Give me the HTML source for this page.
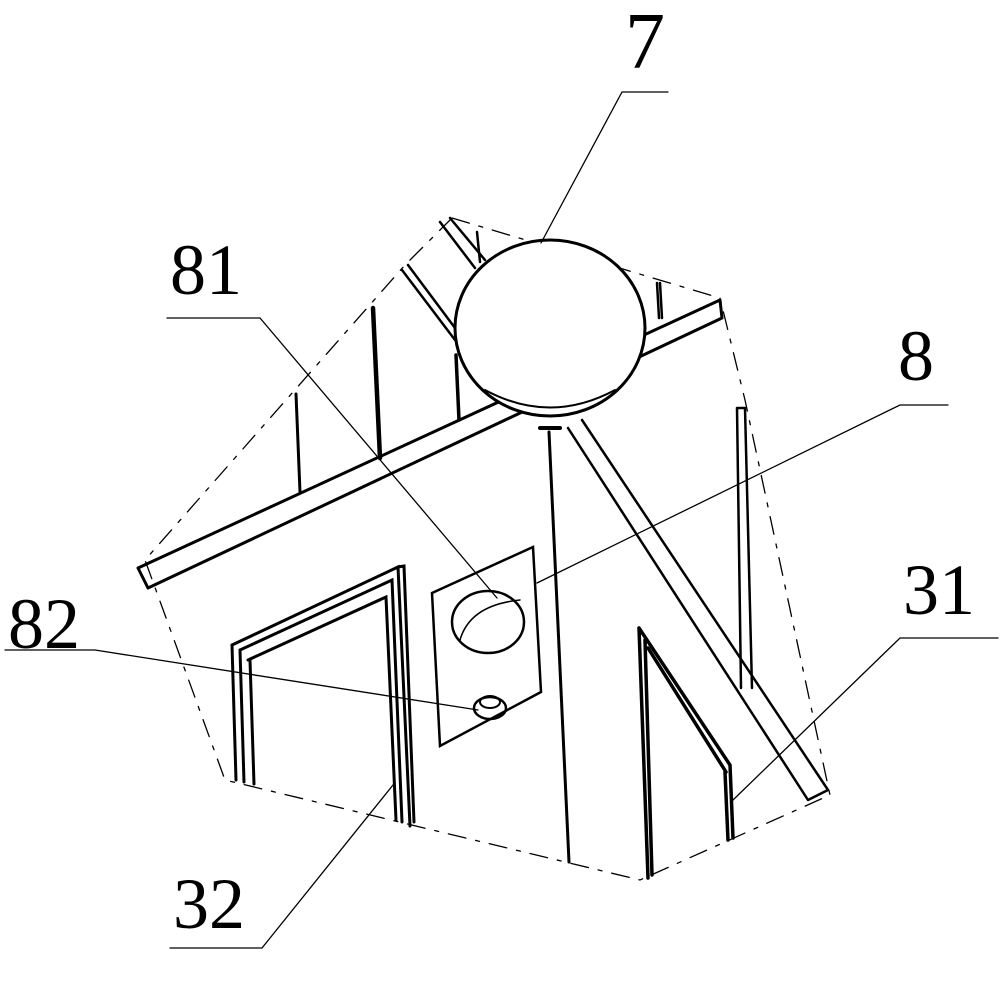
<!DOCTYPE html>
<html><head><meta charset="utf-8"><style>
html,body{margin:0;padding:0;background:#fff;}
svg{display:block}
text{font-family:"Liberation Serif",serif;fill:#000}
</style></head><body>
<svg width="1000" height="982" viewBox="0 0 1000 982" xmlns="http://www.w3.org/2000/svg">
<g fill="none" stroke="#000" stroke-linecap="round">
<path d="M452,218 L720,298 L745,400 L830,795 L640,880 L225,780 L145,560 L405,265 L452,218" stroke-width="1.3" stroke-dasharray="18,10,4,10"/>
<path d="M138,568 L720,300 M148,588 L722,318 M138,568 L148,588 M720,300 L722,318" stroke-width="3"/>
<path d="M296,394 L300,492" stroke-width="3"/>
<path d="M373,308 L380,458" stroke-width="4.5"/>
<path d="M456,355 L459,420" stroke-width="3.5"/>
<path d="M660,283 L662,318 M657,283 L659,318" stroke-width="2.5"/>
<path d="M477,232 L480,262" stroke-width="2.5"/>
<path d="M402,270 L455,340 M408,265 L458,332 M440,222 L475,268 M450,218 L485,260" stroke-width="2.5"/>
<path d="M568,428 L808,800 M582,420 L828,790 M808,800 L828,790" stroke-width="2.5"/>
<path d="M549,432 L569,862" stroke-width="3"/>
<path d="M540,428 L560,428" stroke-width="4"/>
<path d="M737,408 L741,688 M745,408 L752,688 M737,408 L745,408" stroke-width="2.5"/>
<ellipse cx="550" cy="328" rx="95" ry="88" fill="#fff" stroke-width="3"/>
<path d="M485,390 Q550,425 615,390" stroke-width="2"/>
<path d="M639,628 L648,878 M645,640 L652,875 M639,628 L730,765 L733,838 M648,648 L726,772 M725,772 L728,840" stroke-width="3.5"/>
<path d="M232,645 L398,567 L410,826 M398,567 L404,566 L414,822" stroke-width="3"/>
<path d="M240,650 L392,580 L402,822 M248,660 L386,597 L396,820" stroke-width="3"/>
<path d="M232,645 L236,780 M240,650 L244,782 M250,660 L254,784" stroke-width="3"/>
<path d="M432,593 L533,547 L541,692 L440,746 Z" stroke-width="2.5"/>
<ellipse cx="488" cy="622" rx="36" ry="31" stroke-width="2.5"/>
<path d="M460,640 Q470,605 520,600" stroke-width="1.5"/>
<ellipse cx="490" cy="708" rx="16" ry="11" stroke-width="2.5"/>
<ellipse cx="490" cy="702" rx="10" ry="6" stroke-width="2"/>
<g stroke-width="1.3">
<path d="M668,92 L622,92 L541,243"/>
<path d="M167,318 L260,318 L497,598"/>
<path d="M948,405 L900,405 L537,583"/>
<path d="M998,638 L900,638 L733,800"/>
<path d="M5,650 L95,650 L478,710"/>
<path d="M170,948 L262,948 L393,785"/>
</g>
</g>
<text x="625" y="68" font-size="80">7</text>
<text x="170" y="294" font-size="72">81</text>
<text x="898" y="380" font-size="72">8</text>
<text x="903" y="614" font-size="72">31</text>
<text x="8" y="648" font-size="72">82</text>
<text x="173" y="928" font-size="72">32</text>
</svg>
</body></html>
